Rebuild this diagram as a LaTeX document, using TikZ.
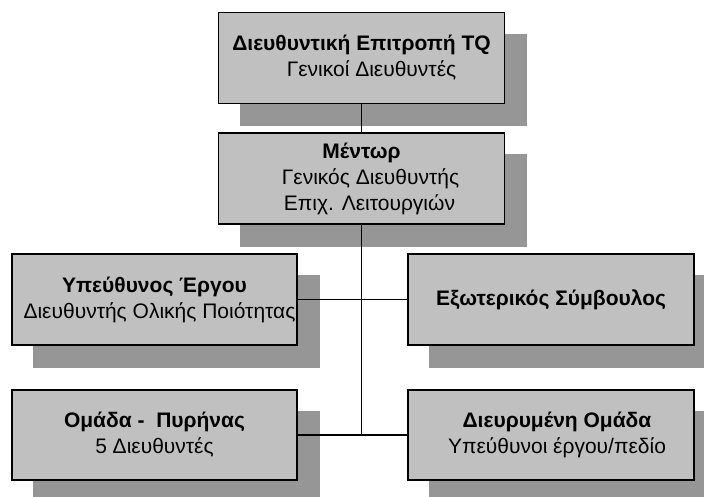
\documentclass[tikz,border=0pt]{standalone}
\usepackage{fontspec}
\setmainfont{Liberation Sans}
\usetikzlibrary{backgrounds}
\definecolor{boxfill}{HTML}{C0C0C0}
\definecolor{shadowfill}{HTML}{969696}
\newcommand{\padline}[1]{\hspace*{#1pt}}
\begin{document}
\begin{tikzpicture}[x=1pt,y=-1pt,
  orgbox/.style={draw=black, line width=1.4pt, fill=boxfill, inner sep=0pt,
    minimum width=286pt, minimum height=91pt, align=center,
    font=\fontsize{21}{26}\selectfont},
  link/.style={draw=black, line width=1.2pt},
  boxshadow/.style={fill=shadowfill}]
\clip (0,0) rectangle (704,497);

% boxes
\node[orgbox] (board) at (361.5,58) {\textbf{Διευθυντική Επιτροπή TQ}\\\padline{20}Γενικοί Διευθυντές};
\node[orgbox] (mentor) at (361.5,178.5) {\textbf{Μέντωρ}\\\padline{18}Γενικός Διευθυντής\\\padline{16}Επιχ. Λειτουργιών};
\node[orgbox, minimum width=285pt] (pm) at (154.5,299.5) {\textbf{Υπεύθυνος Έργου}\\\padline{10}Διευθυντής Ολικής Ποιότητας};
\node[orgbox] (ext) at (551,299.5) {\textbf{Εξωτερικός Σύμβουλος}};
\node[orgbox, minimum width=285pt, minimum height=90pt] (core) at (154.5,435) {\textbf{Ομάδα -\ \ Πυρήνας}\\5 Διευθυντές};
\node[orgbox, minimum height=90pt] (wide) at (551,435) {\padline{12}\textbf{Διευρυμένη Ομάδα}\\\padline{12}Υπεύθυνοι έργου/πεδίο};

\coordinate (junction) at (mentor.south |- core.east);

\begin{scope}[on background layer]
  % drop shadows
  \foreach \b in {board,mentor,pm,ext,core,wide}
    \fill[boxshadow] ([shift={(22,22)}]\b.north west) rectangle ([shift={(22,22)}]\b.south east);
  % connectors
  \draw[link] (board.south) -- (mentor.north);
  \draw[link] (mentor.south) -- (junction);
  \draw[link] (pm.east) -- (ext.west);
  \draw[link] (core.east) -- (wide.west);
\end{scope}
\end{tikzpicture}
\end{document}
